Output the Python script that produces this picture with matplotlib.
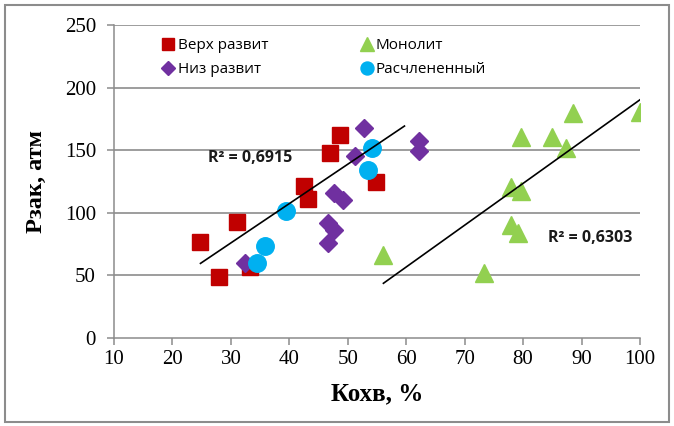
import matplotlib
matplotlib.use("Agg")
import matplotlib.pyplot as plt
from matplotlib.patches import Rectangle
from matplotlib.lines import Line2D

# ---- data ----
verh_x = [24.8, 27.9, 31.0, 33.2, 42.5, 43.2, 47.0, 48.6, 54.8]
verh_y = [77, 48.5, 93, 57, 121.5, 111, 147.5, 162, 125]

niz_x = [32.4, 52.8, 51.2, 47.6, 49.2, 46.7, 47.6, 46.7, 62.2, 62.2]
niz_y = [59.6, 167.5, 145, 115.6, 110.2, 91.6, 86.3, 75.6, 157.6, 149.6]

mono_x = [88.6, 100.0, 79.6, 85.0, 87.3, 77.9, 79.6, 77.9, 79.2, 73.3, 56.1]
mono_y = [179.4, 180.8, 160.8, 160.2, 152.0, 120.9, 117.8, 90.3, 83.6, 52.2, 66.3]

rasch_x = [34.5, 35.8, 39.5, 54.1, 53.4]
rasch_y = [59.6, 73.7, 101.4, 151.5, 134.2]

trend1_x = [24.8, 59.7]
trend1_y = [59.6, 169.3]
trend2_x = [56.1, 100.0]
trend2_y = [43.7, 190.3]

labels = ["Верх развит", "Монолит", "Низ развит", "Расчлененный"]
r2_texts = ["R² = 0,6915", "R² = 0,6303"]
r2_pos = [(33.3, 143.5), (91.5, 79.6)]

xticks = [10, 20, 30, 40, 50, 60, 70, 80, 90, 100]
yticks = [0, 50, 100, 150, 200, 250]

# ---- figure ----
W, H = 674, 426
fig = plt.figure(figsize=(W / 100, H / 100), dpi=100)
ax = fig.add_axes([114 / W, 1 - 338 / H, (640 - 114) / W, (338 - 25) / H])

grid_c = "#8c8c8c"
for yv in yticks[1:]:
    ax.axhline(yv, color=grid_c, lw=1.2, zorder=0)

px = 1 / 1.389
h_verh, = ax.plot(verh_x, verh_y, ls="none", marker="s", ms=16.5 * px, color="#C00000", mec="#C00000", zorder=3)
h_mono, = ax.plot(mono_x, mono_y, ls="none", marker="^", ms=18 * px, color="#92D050", mec="#92D050", zorder=3)
h_niz, = ax.plot(niz_x, niz_y, ls="none", marker="D", ms=13 * px, color="#7030A0", mec="#7030A0", zorder=4)
h_rasch, = ax.plot(rasch_x, rasch_y, ls="none", marker="o", ms=17.5 * px, color="#00B0F0", mec="#00B0F0", zorder=5)

ax.plot(trend1_x, trend1_y, color="black", lw=1.2, zorder=6)
ax.plot(trend2_x, trend2_y, color="black", lw=1.2, zorder=6)

for t, (tx, ty) in zip(r2_texts, r2_pos):
    ax.text(tx, ty, t, ha="center", va="center", fontsize=11.5, fontweight="bold",
            family="Open Sans", color="#1a1a1a", zorder=7)

ax.set_xlim(10, 100)
ax.set_ylim(0, 250)
ax.set_xticks(xticks)
ax.set_yticks(yticks)
serif = "Liberation Serif"
ax.set_xticklabels([str(v) for v in xticks], family=serif, fontsize=15)
ax.set_yticklabels([str(v) for v in yticks], family=serif, fontsize=15)
ax.tick_params(axis="both", direction="out", length=5, width=1.1, color=grid_c)
ax.tick_params(axis="y", pad=8)
ax.tick_params(axis="x", pad=4)

for s in ["top", "right"]:
    ax.spines[s].set_visible(False)
for s in ["left", "bottom"]:
    ax.spines[s].set_color(grid_c)
    ax.spines[s].set_linewidth(1.1)

ax.set_xlabel("Кохв, %", family=serif, fontsize=18, fontweight="bold", labelpad=9)
ax.set_ylabel("Рзак, атм", family=serif, fontsize=17.5, fontweight="bold", labelpad=13)

# legend: rows [Верх, Монолит], [Низ, Расчлененный]
handles = [
    Line2D([], [], ls="none", marker="s", ms=13 * px, color="#C00000"),
    Line2D([], [], ls="none", marker="D", ms=9.5 * px, color="#7030A0"),
    Line2D([], [], ls="none", marker="^", ms=14 * px, color="#92D050"),
    Line2D([], [], ls="none", marker="o", ms=13 * px, color="#00B0F0"),
]
leg_labels = [labels[0], labels[2], labels[1], labels[3]]
leg = ax.legend(handles, leg_labels, ncol=2, loc="upper left",
                bbox_to_anchor=(163 / W, 1 - 38 / H), bbox_transform=fig.transFigure,
                frameon=False, prop={"family": "Open Sans", "size": 11},
                handlelength=0.7, handletextpad=0.25, columnspacing=6.1,
                labelspacing=0.6, borderpad=0, borderaxespad=0)

fig.patches.append(Rectangle((5 / W, 4 / H), 664 / W, 417 / H, transform=fig.transFigure,
                             fill=False, edgecolor="#8c8c8c", lw=1.5))

fig.savefig("out.png", dpi=100)
